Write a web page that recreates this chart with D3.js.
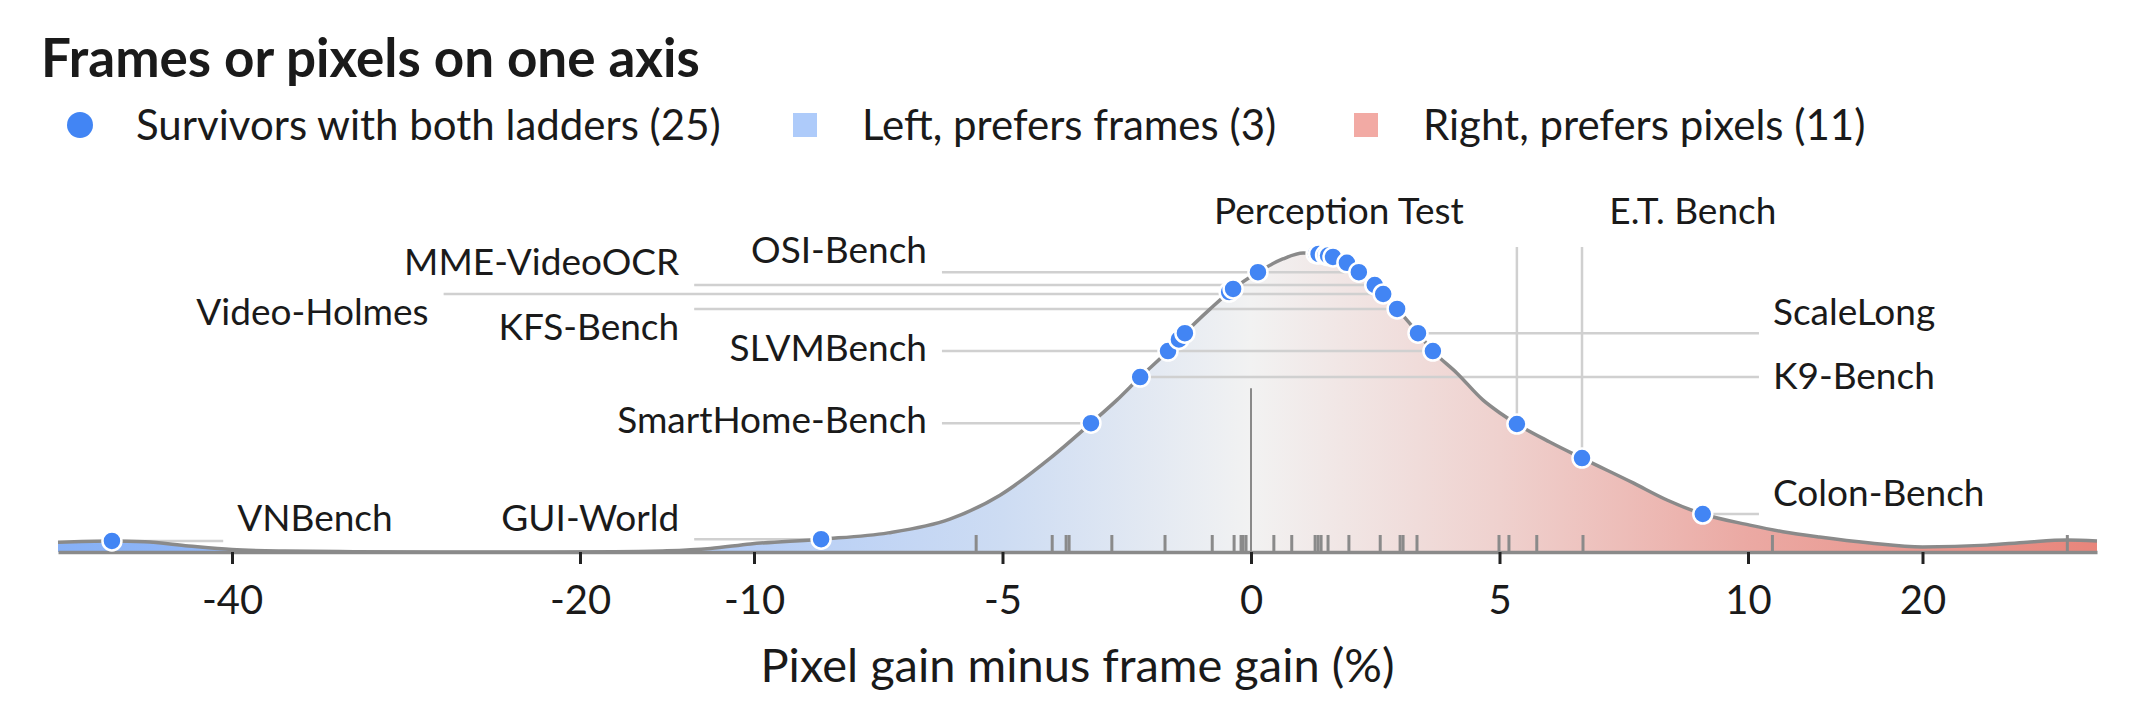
<!DOCTYPE html>
<html>
<head>
<meta charset="utf-8">
<script src="https://cdn.jsdelivr.net/npm/d3@7"></script>
<style>
  body { margin: 0; background: #fff; }
  svg { font-family: Lato, 'Noto Sans', sans-serif; }
</style>
</head>
<body>
<div id="chart"></div>
<script>
// Pixel gain minus frame gain (%) for the 25 survivors (dots)
const survivorGains = [-46.9, -8.65, -3.22, -2.23, -1.67, -1.45, -1.33, -0.44, -0.36, 0.14,
  1.31, 1.36, 1.5, 1.55, 1.65, 1.93, 2.17, 2.49, 2.66, 2.94, 3.36, 3.66, 5.35, 6.66, 9.09];

// Rug of all benchmark differences along the baseline
const rugGains = [-5.53, -4.0, -3.72, -3.66, -2.8, -1.73, -0.78, -0.34, -0.2, -0.16, -0.1,
  0.46, 0.82, 1.29, 1.35, 1.41, 1.55, 1.97, 2.6, 3.0, 3.06, 3.34, 4.99, 5.19, 5.75, 6.68, 11.4, 28.3];

// Density curve (peak = 1)
const curveGains = [-50, -47, -45, -42.5, -40, -37, -33, -28, -22, -18, -15, -12.5, -10.2, -8.65,
  -7.3, -6.06, -5.05, -4.04, -3.22, -2.7, -2.23, -1.67, -1.33, -0.82, -0.36, 0.14, 0.64, 1.05,
  1.35, 1.65, 1.93, 2.17, 2.49, 2.66, 2.94, 3.36, 3.66, 4.14, 4.67, 5.01, 5.35, 6.01, 6.66, 7.69,
  8.37, 9.09, 10.1, 12, 14.1, 17, 20, 23.7, 26, 28.3, 30];
const curveDensity = [0.033, 0.037, 0.034, 0.02, 0.008, 0.003, 0.001, 0, 0, 0.001, 0.004, 0.012,
  0.027, 0.043, 0.064, 0.11, 0.19, 0.314, 0.431, 0.508, 0.585, 0.672, 0.732, 0.813, 0.88, 0.936,
  0.98, 1.0, 0.997, 0.987, 0.967, 0.936, 0.893, 0.863, 0.813, 0.732, 0.672, 0.599, 0.508, 0.465,
  0.428, 0.368, 0.314, 0.231, 0.174, 0.127, 0.09, 0.068, 0.05, 0.03, 0.017, 0.023, 0.033, 0.04, 0.037];

const tickValues = [-40, -20, -10, -5, 0, 5, 10, 20];

const legendLabels = ['Survivors with both ladders (25)', 'Left, prefers frames (3)', 'Right, prefers pixels (11)'];

// Labelled benchmarks and the survivor gain each one points at
const labelNames = ['VNBench', 'GUI-World', 'SmartHome-Bench', 'SLVMBench', 'OSI-Bench', 'MME-VideoOCR',
  'KFS-Bench', 'Video-Holmes', 'ScaleLong', 'K9-Bench', 'Colon-Bench', 'Perception Test', 'E.T. Bench'];
const labelTargets = [-46.9, -8.65, -3.22, 3.66, 2.17, 2.49, 2.94, 2.66, 3.36, -2.23, 9.09, 5.35, 6.66];

// Where each label sits, in data units (gain along x, density level along y)
const labelPlacement = [
  { gain: -39.7, level: 0.114, anchor: 'start' },
  { gain: -14.3, level: 0.114, anchor: 'end' },
  { gain: -6.52, level: 0.441, anchor: 'end' },
  { gain: -6.52, level: 0.682, anchor: 'end' },
  { gain: -6.52, level: 1.01, anchor: 'end' },
  { gain: -14.3, level: 0.97, anchor: 'end' },
  { gain: -14.3, level: 0.753, anchor: 'end' },
  { gain: -28.7, level: 0.803, anchor: 'end' },
  { gain: 11.43, level: 0.803, anchor: 'start' },
  { gain: 11.43, level: 0.589, anchor: 'start' },
  { gain: 11.43, level: 0.197, anchor: 'start' },
  { gain: 1.77, level: 1.14, anchor: 'middle' },
  { gain: 8.89, level: 1.14, anchor: 'middle' },
];

const width = 2135;
const height = 728;
const blue = '#4285f4';
const grey = '#8a8a8a';

const svg = d3.select('#chart')
  .append('svg')
  .attr('width', width)
  .attr('height', height);

// Piecewise scale: wide linear core, compressed tails
const x = d3.scaleLinear().domain([-50, -10, 10, 30]).range([58, 754, 1748, 2097]);
const y = d3.scaleLinear().domain([0, 1]).range([552, 253]);

// Title
svg.append('text')
  .attr('x', 41)
  .attr('y', 77)
  .attr('font-size', 53)
  .attr('font-weight', 700)
  .attr('fill', '#1a1a1a')
  .text('Frames or pixels on one axis');

// Legend
const legendX = [80, 805, 1366];
const legend = svg.append('g');
legend.append('circle').attr('cx', legendX[0]).attr('cy', 125).attr('r', 13).attr('fill', blue);
legend.append('rect').attr('x', legendX[1] - 12).attr('y', 113).attr('width', 24).attr('height', 24).attr('fill', '#aecbfa');
legend.append('rect').attr('x', legendX[2] - 12).attr('y', 113).attr('width', 24).attr('height', 24).attr('fill', '#f2aaa4');
legend.selectAll('.legend-label')
  .data(legendLabels)
  .enter()
  .append('text')
  .attr('class', 'legend-label')
  .attr('x', (d, i) => legendX[i] + (i === 0 ? 56 : 57))
  .attr('y', 140)
  .attr('font-size', 42)
  .attr('fill', '#1a1a1a')
  .text((d) => d);

// Gradient fill under the curve
const defs = svg.append('defs');
const grad = defs.append('linearGradient')
  .attr('id', 'fill-grad')
  .attr('gradientUnits', 'userSpaceOnUse')
  .attr('x1', x(-50)).attr('x2', x(30))
  .attr('y1', 0).attr('y2', 0);
const stops = [
  [-50, '#86b0f7'], [-10, '#b5cdf6'], [-5, '#cddcf3'], [0, '#f2f2f2'],
  [5, '#efd1ce'], [10, '#eba9a3'], [30, '#e8857b'],
];
grad.selectAll('stop')
  .data(stops)
  .enter()
  .append('stop')
  .attr('offset', (d) => (x(d[0]) - x(-50)) / (x(30) - x(-50)))
  .attr('stop-color', (d) => d[1]);

const curvePoints = curveGains.map((g, i) => [g, curveDensity[i]]);

svg.append('path')
  .datum(curvePoints)
  .attr('fill', 'url(#fill-grad)')
  .attr('d', d3.area()
    .x((d) => x(d[0]))
    .y0(y(0))
    .y1((d) => y(d[1]))
    .curve(d3.curveMonotoneX));

// Zero reference line
svg.append('line')
  .attr('x1', x(0)).attr('x2', x(0))
  .attr('y1', y(0.548)).attr('y2', y(0))
  .attr('stroke', grey)
  .attr('stroke-width', 2);

// Rug
svg.append('g')
  .selectAll('line')
  .data(rugGains)
  .enter()
  .append('line')
  .attr('x1', (d) => x(d)).attr('x2', (d) => x(d))
  .attr('y1', y(0)).attr('y2', y(0) - 17)
  .attr('stroke', grey)
  .attr('stroke-width', 3);

// Curve outline (drawn now so dots can be placed on it)
const leaderLayer = svg.append('g');
const strokePath = svg.append('path')
  .datum(curvePoints)
  .attr('fill', 'none')
  .attr('stroke', grey)
  .attr('stroke-width', 3.5)
  .attr('d', d3.line()
    .x((d) => x(d[0]))
    .y((d) => y(d[1]))
    .curve(d3.curveMonotoneX));

// Find the curve height at a given pixel x
const pathNode = strokePath.node();
const totalLength = pathNode.getTotalLength();
function curveYAt(px) {
  let lo = 0;
  let hi = totalLength;
  for (let i = 0; i < 40; i++) {
    const mid = (lo + hi) / 2;
    if (pathNode.getPointAtLength(mid).x < px) lo = mid;
    else hi = mid;
  }
  return pathNode.getPointAtLength((lo + hi) / 2).y;
}

// Axis
const axis = svg.append('g')
  .attr('transform', `translate(0,${y(0)})`)
  .call(d3.axisBottom(x)
    .tickValues(tickValues)
    .tickSize(12)
    .tickSizeOuter(0)
    .tickPadding(22)
    .tickFormat((d) => String(d)));
axis.select('.domain').attr('stroke', grey).attr('stroke-width', 3.5);
axis.selectAll('.tick line').attr('stroke', '#222').attr('stroke-width', 3);
axis.selectAll('.tick text')
  .attr('font-size', 40)
  .attr('font-family', 'Lato, sans-serif')
  .attr('fill', '#1a1a1a');

svg.append('text')
  .attr('x', (x(-50) + x(30)) / 2)
  .attr('y', 682)
  .attr('text-anchor', 'middle')
  .attr('font-size', 47)
  .attr('fill', '#1a1a1a')
  .text('Pixel gain minus frame gain (%)');

// Leader lines
labelNames.forEach((name, i) => {
  const p = labelPlacement[i];
  const dx = x(labelTargets[i]);
  const dy = curveYAt(dx);
  const lx = x(p.gain);
  if (p.anchor === 'middle') {
    leaderLayer.append('line')
      .attr('x1', dx).attr('x2', dx)
      .attr('y1', y(1.02)).attr('y2', dy);
  } else if (p.anchor === 'end') {
    leaderLayer.append('line')
      .attr('x1', lx + 15).attr('x2', dx)
      .attr('y1', dy).attr('y2', dy);
  } else {
    leaderLayer.append('line')
      .attr('x1', dx).attr('x2', lx - 14)
      .attr('y1', dy).attr('y2', dy);
  }
});
leaderLayer.selectAll('line')
  .attr('stroke', '#d0d0d0')
  .attr('stroke-width', 2.5);

// Survivor dots
svg.append('g')
  .selectAll('circle')
  .data(survivorGains.slice().sort((a, b) => a - b))
  .enter()
  .append('circle')
  .attr('cx', (d) => x(d))
  .attr('cy', (d) => curveYAt(x(d)))
  .attr('r', 9.5)
  .attr('fill', blue)
  .attr('stroke', '#fff')
  .attr('stroke-width', 2.5);

// Benchmark labels
svg.append('g')
  .selectAll('text')
  .data(labelNames)
  .enter()
  .append('text')
  .attr('x', (d, i) => x(labelPlacement[i].gain))
  .attr('y', (d, i) => y(labelPlacement[i].level))
  .attr('dy', '0.35em')
  .attr('text-anchor', (d, i) => labelPlacement[i].anchor)
  .attr('font-size', 37)
  .attr('fill', '#1a1a1a')
  .text((d) => d);
</script>
</body>
</html>
